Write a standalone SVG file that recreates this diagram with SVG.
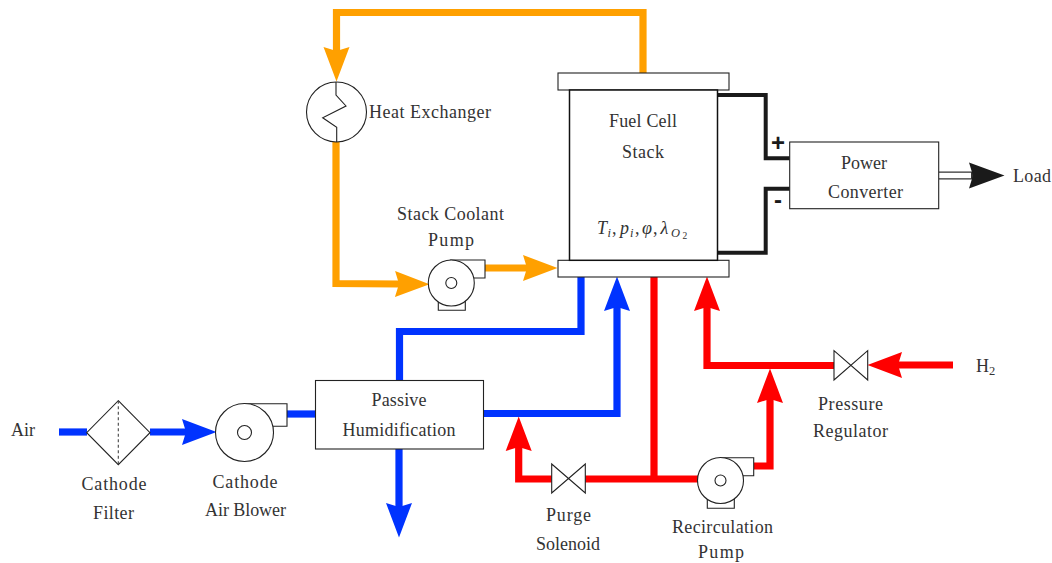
<svg xmlns="http://www.w3.org/2000/svg" width="1052" height="563" viewBox="0 0 1052 563">
<style>
text{font-family:"Liberation Serif","DejaVu Serif",serif;font-size:18px;fill:#333;}
text.m{text-anchor:middle;}
text.i{font-style:italic;}
text.sub{font-size:12.500px;}
text.subsub{font-size:9.500px;}
text.sign{font-family:"Liberation Sans",Arial,sans-serif;font-weight:bold;font-size:24px;fill:#1a1a1a;text-anchor:middle;}
.o{fill:#fff;stroke:#222;stroke-width:1.100;}
.k{fill:#fff;stroke:#111;stroke-width:1.500;}
.n{fill:none;stroke:#222;stroke-width:1.100;}
.pipe{fill:none;stroke-width:7.200;}
.or{stroke:#ffa000;}
.bl{stroke:#0033ff;}
.re{stroke:#ff0000;}
.wire{fill:none;stroke:#1a1a1a;stroke-width:4;}
</style>
<defs>
<marker id="aO" markerUnits="userSpaceOnUse" markerWidth="36" markerHeight="28" viewBox="0 -14 36 28" refX="4" refY="0" orient="auto"><path d="M0,-13L34.500,0L0,13L4,0Z" fill="#ffa000"/></marker>
<marker id="aB" markerUnits="userSpaceOnUse" markerWidth="36" markerHeight="28" viewBox="0 -14 36 28" refX="4" refY="0" orient="auto"><path d="M0,-13L34.500,0L0,13L4,0Z" fill="#0033ff"/></marker>
<marker id="aR" markerUnits="userSpaceOnUse" markerWidth="36" markerHeight="28" viewBox="0 -14 36 28" refX="4" refY="0" orient="auto"><path d="M0,-13L34.500,0L0,13L4,0Z" fill="#ff0000"/></marker>
<marker id="aK" markerUnits="userSpaceOnUse" markerWidth="38" markerHeight="28" viewBox="0 -14 38 28" refX="4" refY="0" orient="auto"><path d="M0,-13L35.500,0L0,13L4,0Z" fill="#1a1a1a"/></marker>
</defs>
<g id="connectors">
<path class="pipe or" d="M643,73V12.500H336.500V51" marker-end="url(#aO)"/>
<path class="pipe or" d="M336,142V283.500L399,284" marker-end="url(#aO)"/>
<path class="pipe or" d="M485,268H527" marker-end="url(#aO)"/>
<path class="pipe bl" d="M581,277V331.500H399.500V381"/>
<path class="pipe bl" d="M484,413.500H617V307" marker-end="url(#aB)"/>
<path class="pipe bl" d="M399,449V507" marker-end="url(#aB)"/>
<path class="pipe bl" d="M59,432H87"/>
<path class="pipe bl" d="M150,432H186" marker-end="url(#aB)"/>
<path class="pipe bl" d="M287,414H316"/>
<path class="pipe re" d="M654,277V479"/>
<path class="pipe re" d="M585,479H698"/>
<path class="pipe re" d="M552,479H518.700V447" marker-end="url(#aR)"/>
<path class="pipe re" d="M754,466H770V399" marker-end="url(#aR)"/>
<path class="pipe re" d="M835,365.500H707V307" marker-end="url(#aR)"/>
<path class="pipe re" d="M953,365H898" marker-end="url(#aR)"/>
<path class="wire" d="M718,95H765.700V158.300H790"/>
<path class="wire" d="M790,188.700H765.700V252.700H718"/>
<path d="M939,175.500H973" fill="none" stroke="#333" stroke-width="8" marker-end="url(#aK)"/>
<path d="M939,175.500H971" fill="none" stroke="#fff" stroke-width="5.500"/>
<text class="sign" x="778" y="151">+</text>
<text class="sign" x="778" y="208">-</text>
</g>
<g id="stack">
<rect class="o" x="558" y="73" width="171" height="17"/>
<rect class="o" x="558" y="260.300" width="171" height="16.700"/>
<rect class="k" x="569.500" y="90" width="148" height="170.300"/>
<text class="m" x="643" y="126.700" textLength="68">Fuel Cell</text>
<text class="m" x="643" y="157.700" textLength="42">Stack</text>
<text class="i" x="597" y="233.500">T</text>
<text class="i sub" x="607.500" y="236.500">i</text>
<text x="612" y="233.500">,</text>
<text class="i" x="620" y="233.500">p</text>
<text class="i sub" x="630" y="236.500">i</text>
<text x="635" y="233.500">,</text>
<text class="i" x="642" y="233.500">φ</text>
<text x="653" y="233.500">,</text>
<text class="i" x="660.500" y="233.500">λ</text>
<text class="i sub" x="671" y="237">O</text>
<text class="subsub" x="682.500" y="239">2</text>
</g>
<g id="heat-exchanger">
<circle class="o" cx="336.500" cy="112" r="30"/>
<path class="n" d="M336,82V95L346,106L322.700,117.700L336.700,127.300V142"/>
<text x="369" y="117.700" textLength="122">Heat Exchanger</text>
</g>
<g id="coolant-pump">
<path class="o" d="M451,260H485V278H470Z"/>
<path class="o" d="M438.300,300V310.300H465.300V300Z"/>
<circle class="o" cx="451.300" cy="283" r="23"/>
<circle class="o" cx="451.300" cy="283" r="5.500"/>
<text class="m" x="450.500" y="219.700" textLength="107">Stack Coolant</text>
<text class="m" x="451" y="245.700" textLength="46">Pump</text>
</g>
<g id="power-converter">
<rect class="o" x="789.700" y="142" width="149" height="66.700"/>
<text class="m" x="864" y="168.700" textLength="46">Power</text>
<text class="m" x="865.500" y="197.700" textLength="75">Converter</text>
</g>
<g id="load"><text x="1013" y="181.700" textLength="38">Load</text></g>
<g id="humidifier">
<rect class="o" x="315.500" y="380.500" width="168" height="68.500"/>
<text class="m" x="399" y="405.700" textLength="55">Passive</text>
<text class="m" x="399" y="435.700" textLength="113">Humidification</text>
</g>
<g id="air"><text x="11" y="435.700" textLength="24">Air</text></g>
<g id="cathode-filter">
<path class="o" d="M118.300,400.700L150,432.700L118.300,464.700L86.700,432.700Z"/>
<path d="M118.300,400.700V464.700" fill="none" stroke="#444" stroke-width="1.100" stroke-dasharray="3,2.500"/>
<text class="m" x="114" y="489.700" textLength="65">Cathode</text>
<text class="m" x="113.500" y="518.700" textLength="41">Filter</text>
</g>
<g id="air-blower">
<path class="o" d="M244.500,403.700H287V426.300H268Z"/>
<circle class="o" cx="244.500" cy="432.500" r="29"/>
<circle class="o" cx="244.500" cy="432.500" r="7"/>
<text class="m" x="245" y="487.700" textLength="65">Cathode</text>
<text class="m" x="245.500" y="515.700" textLength="81">Air Blower</text>
</g>
<g id="purge-solenoid">
<path class="o" d="M551.700,464L585.300,493V464L551.700,493Z"/>
<text class="m" x="568.500" y="520.700" textLength="45">Purge</text>
<text class="m" x="568" y="549.700" textLength="64">Solenoid</text>
</g>
<g id="recirculation-pump">
<path class="o" d="M720.500,457.700H753.700V475.700H738Z"/>
<path class="o" d="M707.300,498V508.300H734.300V498Z"/>
<circle class="o" cx="720.500" cy="480.500" r="23"/>
<circle class="o" cx="720.500" cy="480.500" r="5.500"/>
<text class="m" x="722.500" y="532.700" textLength="101">Recirculation</text>
<text class="m" x="721" y="557.700" textLength="46">Pump</text>
</g>
<g id="pressure-regulator">
<path class="o" d="M834,350.700L867.700,380V350.700L834,380Z"/>
<text class="m" x="850.500" y="409.700" textLength="65">Pressure</text>
<text class="m" x="850.500" y="436.700" textLength="75">Regulator</text>
</g>
<g id="h2">
<text x="976" y="371.500" textLength="13">H</text>
<text class="sub" x="989" y="374.500">2</text>
</g>
</svg>
